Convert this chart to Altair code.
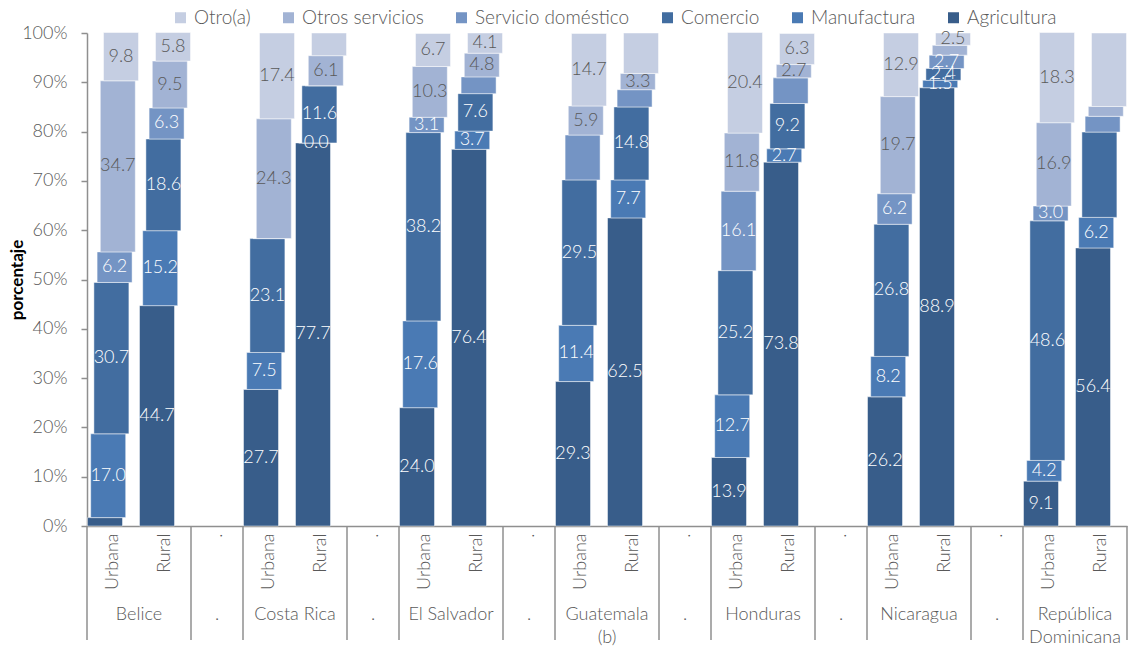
import altair as alt
import pandas as pd

# ---------------- data ----------------
countries = ["Belice", "Costa Rica", "El Salvador", "Guatemala\n(b)", "Honduras",
             "Nicaragua", "República\nDominicana"]
zones = ["Urbana", "Rural"]
series = ["Agricultura", "Manufactura", "Comercio", "Servicio doméstico",
          "Otros servicios", "Otro(a)"]

# one value per bar: Belice U, Belice R, Costa Rica U, R, El Salvador U, R,
# Guatemala U, R, Honduras U, R, Nicaragua U, R, Rep. Dominicana U, R
agricultura = [1.7, 44.7, 27.7, 77.7, 24.0, 76.4, 29.3, 62.5, 13.9, 73.8, 26.2, 88.9, 9.1, 56.4]
manufactura = [17.0, 15.2, 7.5, 0.0, 17.6, 3.7, 11.4, 7.7, 12.7, 2.7, 8.2, 1.5, 4.2, 6.2]
comercio = [30.7, 18.6, 23.1, 11.6, 38.2, 7.6, 29.5, 14.8, 25.2, 9.2, 26.8, 2.4, 48.6, 17.3]
servicio_domestico = [6.2, 6.3, 0.0, 0.0, 3.1, 3.4, 9.1, 3.5, 16.1, 5.2, 6.2, 2.7, 3.0, 3.2]
otros_servicios = [34.7, 9.5, 24.3, 6.1, 10.3, 4.8, 5.9, 3.3, 11.8, 2.7, 19.7, 2.0, 16.9, 2.0]
otro = [9.8, 5.8, 17.4, 4.6, 6.7, 4.1, 14.7, 8.2, 20.4, 6.3, 12.9, 2.5, 18.3, 14.9]

# data labels that are not shown in the original (bar index, series)
hidden_labels = [(0, "Agricultura"), (2, "Servicio doméstico"), (3, "Servicio doméstico"),
                 (3, "Otro(a)"), (5, "Servicio doméstico"), (6, "Servicio doméstico"),
                 (7, "Servicio doméstico"), (7, "Otro(a)"), (9, "Servicio doméstico"),
                 (11, "Otros servicios"), (13, "Comercio"), (13, "Servicio doméstico"),
                 (13, "Otros servicios"), (13, "Otro(a)")]

colors = ["#385D8A", "#4A7AB4", "#426DA0", "#7494C4", "#A2B3D4", "#C5CEE2"]
label_colors = ["#FFFFFF", "#FFFFFF", "#FFFFFF", "#FFFFFF", "#595959", "#595959"]
legend_order = ["Otro(a)", "Otros servicios", "Servicio doméstico", "Comercio",
                "Manufactura", "Agricultura"]

# ---------------- build tables ----------------
values = [agricultura, manufactura, comercio, servicio_domestico, otros_servicios, otro]

slots = []
for i, c in enumerate(countries):
    for z in zones:
        slots.append(f"{c}|{z}")
    if i < len(countries) - 1:
        slots.append(f"sep{i}")

rows = []
b = 0
for c in countries:
    for z in zones:
        start = 0.0
        for k, s in enumerate(series):
            v = values[k][b]
            rows.append({
                "slot": f"{c}|{z}", "series": s, "start": start, "end": start + v,
                "mid": start + v / 2, "label": f"{v:.1f}",
                "show": (b, s) not in hidden_labels,
            })
            start += v
        b += 1
df = pd.DataFrame(rows)

country_df = pd.DataFrame({"slot": [f"{c}|Urbana" for c in countries], "name": countries})
sep_df = pd.DataFrame({"slot": [s for s in slots if s.startswith("sep")], "name": "."})
left_edges = pd.DataFrame({"slot": [s for s in slots if s.endswith("|Urbana") or s.startswith("sep")]})
right_edge = pd.DataFrame({"slot": [slots[-1]]})

# ---------------- chart ----------------
W, H = 1040, 493
SLOT = W / len(slots)
FONT = "Lato"
GRAY = "#595959"
AXIS_GRAY = "#8F8F8F"
FS = 18

xscale = alt.Scale(type="band", domain=slots, paddingInner=0, paddingOuter=0)
yscale = alt.Scale(domain=[0, 100], nice=False)

xaxis = alt.Axis(title=None, labelExpr="indexof(datum.value, '|') >= 0 ? split(datum.value, '|')[1] : '.'",
                 labelAngle=270, labelAlign="right", labelBaseline="middle", ticks=False,
                 labelPadding=7, domainColor=AXIS_GRAY, domainWidth=1.5,
                 labelFontSize=FS, labelColor=GRAY, labelFont=FONT, labelFontWeight=300)
yaxis = alt.Axis(title="porcentaje", values=list(range(0, 101, 10)),
                 labelExpr="datum.value + '%'", grid=False, tickSize=6, tickColor=AXIS_GRAY,
                 tickWidth=1.5, domainColor=AXIS_GRAY, domainWidth=1.5, labelPadding=14,
                 labelFontSize=FS, labelColor=GRAY, labelFont=FONT, labelFontWeight=300,
                 titleFont=FONT, titleFontSize=17, titleFontWeight="bold", titleColor="#000000",
                 titleX=-70, titleY=H / 2, titleBaseline="middle", titleAngle=270)

color = alt.Color("series:N", scale=alt.Scale(domain=legend_order,
                  range=[colors[series.index(s)] for s in legend_order]),
                  legend=alt.Legend(title=None, orient="none", legendX=84, legendY=-25,
                                    direction="horizontal", columns=6, symbolType="square",
                                    symbolSize=121, symbolStrokeWidth=0, labelFontSize=19,
                                    labelColor=GRAY, labelFont=FONT, labelFontWeight=300,
                                    columnPadding=28, labelOffset=4))

layers = []
for k, s in enumerate(series):
    off = (k - 2.5) * 3.2
    sub = df[df.series == s]
    layers.append(
        alt.Chart(sub).mark_bar(size=35, xOffset=off, stroke="#FFFFFF", strokeWidth=0.8,
                                strokeOpacity=0.6).encode(
            x=alt.X("slot:N", scale=xscale, axis=xaxis),
            y=alt.Y("start:Q", scale=yscale, axis=yaxis),
            y2="end:Q",
            color=color,
        )
    )
for k, s in enumerate(series):
    off = (k - 2.5) * 3.2
    sub = df[(df.series == s) & (df.show)]
    layers.append(
        alt.Chart(sub).mark_text(xOffset=off, fontSize=FS, font=FONT, fontWeight=300,
                                 color=label_colors[k], baseline="middle").encode(
            x=alt.X("slot:N", scale=xscale, axis=xaxis),
            y=alt.Y("mid:Q", scale=yscale, axis=yaxis),
            text="label:N",
        )
    )

rules_left = alt.Chart(left_edges).mark_rule(xOffset=-SLOT / 2, color=AXIS_GRAY, strokeWidth=1.5).encode(
    x=alt.X("slot:N", scale=xscale, axis=xaxis), y=alt.value(H), y2=alt.value(H + 114))
rules_right = alt.Chart(right_edge).mark_rule(xOffset=SLOT / 2, color=AXIS_GRAY, strokeWidth=1.5).encode(
    x=alt.X("slot:N", scale=xscale, axis=xaxis), y=alt.value(H), y2=alt.value(H + 114))

names = alt.Chart(country_df).mark_text(dx=SLOT / 2, fontSize=FS, font=FONT, fontWeight=300,
                                        color=GRAY, baseline="top", lineBreak="\n",
                                        lineHeight=23).encode(
    x=alt.X("slot:N", scale=xscale, axis=xaxis), y=alt.value(H + 80), text="name:N")
dots = alt.Chart(sep_df).mark_text(fontSize=FS, font=FONT, fontWeight=300, color=GRAY,
                                   baseline="top").encode(
    x=alt.X("slot:N", scale=xscale, axis=xaxis), y=alt.value(H + 80), text="name:N")

chart = alt.layer(*layers, rules_left, rules_right, names, dots).properties(
    width=W, height=H, padding={"left": 0, "top": 0, "right": 0, "bottom": 0},
    background="#FFFFFF",
).configure_view(stroke=None)

chart.save("out.html", embed_options={"renderer": "svg", "actions": False})
